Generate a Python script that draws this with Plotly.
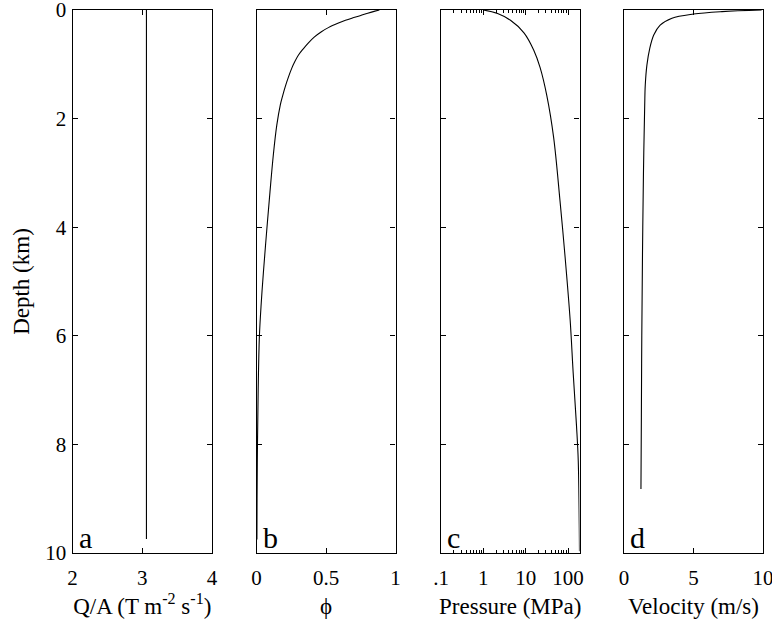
import plotly.graph_objects as go

W, H = 772, 623

# ---- data ----
depth_q = [0.0, 9.74]
qa = [3.06, 3.06]

depth_phi = [0.0, 0.03, 0.06, 0.10, 0.14, 0.19, 0.245, 0.32, 0.40, 0.50, 0.61, 0.72, 0.83,
             0.95, 1.07, 1.24, 1.41, 1.58, 1.75, 2.12, 2.67, 3.35, 4.08, 4.82, 5.4,
             6.0, 7.0, 8.0, 9.0, 9.75]
phi = [0.884, 0.84, 0.80, 0.75, 0.700, 0.64, 0.585, 0.52, 0.467, 0.415, 0.372, 0.335, 0.302,
       0.276, 0.254, 0.229, 0.207, 0.188, 0.171, 0.146, 0.121, 0.097, 0.073, 0.050, 0.034,
       0.021, 0.012, 0.007, 0.004, 0.003]

depth_p = [0.0, 0.065, 0.19, 0.42, 0.74, 1.06, 1.58, 2.35, 3.52, 4.55, 5.71, 6.68,
           7.65, 8.3, 9.97]
pressure = [1.0, 2.17, 4.37, 9.1, 15.5, 21.9, 31.6, 45.7, 64.6, 85.1, 112, 132,
            158, 174, 186]

depth_v = [0.0, 0.03, 0.074, 0.15, 0.28, 0.46, 0.71, 1.01, 1.38, 1.75, 3.0, 4.5,
           6.0, 7.5, 8.82]
velocity = [9.9, 7.05, 5.0, 3.45, 2.6, 2.14, 1.85, 1.65, 1.53, 1.49, 1.40, 1.33,
            1.28, 1.25, 1.22]

depth_ticks = [0, 2, 4, 6, 8, 10]
qa_ticks = [2, 3, 4]
phi_ticks = [0, 0.5, 1]
phi_ticktext = ["0", "0.5", "1"]
p_ticks = [0.1, 1, 10, 100]
p_ticktext = [".1", "1", "10", "100"]
p_minor = [0.2, 0.3, 0.4, 0.5, 0.6, 0.7, 0.8, 0.9, 2, 3, 4, 5, 6, 7, 8, 9,
           20, 30, 40, 50, 60, 70, 80, 90]
v_ticks = [0, 5, 10]

x_titles = ["Q/A (T m<sup>-2</sup> s<sup>-1</sup>)", "\u03d5", "Pressure (MPa)", "Velocity (m/s)"]
panel_letters = ["a", "b", "c", "d"]

# ---- layout geometry (pixels) ----
panels_px = [(72.5, 212), (256.5, 395.5), (441, 579.5), (624, 763)]
y_top, y_bot = 10, 553
ydom = [1 - y_bot / H, 1 - y_top / H]

FONT = "Liberation Serif"
TICK_SIZE = 21
TITLE_SIZE = 23
fig = go.Figure()

series = [
    (qa, depth_q, "linear"),
    (phi, depth_phi, "spline"),
    (pressure, depth_p, "spline"),
    (velocity, depth_v, "spline"),
]

for i, (xv, yv, shape) in enumerate(series):
    n = "" if i == 0 else str(i + 1)
    fig.add_trace(go.Scatter(
        x=xv, y=yv, mode="lines", xaxis="x" + n, yaxis="y" + n,
        line=dict(color="black", width=1.1, shape=shape, smoothing=1.0),
        showlegend=False, hoverinfo="skip"))

common_axis = dict(
    showline=True, linecolor="black", linewidth=1.3, mirror="ticks",
    ticks="inside", ticklen=5, tickcolor="black", tickwidth=1,
    showgrid=False, zeroline=False, automargin=False, ticklabeloverflow="allow",
    tickfont=dict(family=FONT, size=TICK_SIZE, color="black"),
)

x_specs = [
    dict(range=[2, 4], tickvals=qa_ticks),
    dict(range=[0, 1], tickvals=phi_ticks, ticktext=phi_ticktext),
    dict(type="log", range=[-1, 2.27], tickvals=p_ticks, ticktext=p_ticktext,
         minor=dict(ticks="inside", ticklen=3, tickcolor="black", tickwidth=1,
                    tickvals=p_minor, showgrid=False)),
    dict(range=[0, 10], tickvals=v_ticks),
]

layout = dict(
    width=W, height=H, margin=dict(l=0, r=0, t=0, b=0, autoexpand=False),
    paper_bgcolor="white", plot_bgcolor="white",
    font=dict(family=FONT, size=TICK_SIZE, color="black"),
    annotations=[],
)

for i, (x0, x1) in enumerate(panels_px):
    n = "" if i == 0 else str(i + 1)
    xa = dict(common_axis)
    xa.update(x_specs[i])
    xa.update(domain=[x0 / W, x1 / W], anchor="y" + n,
              ticklabelstandoff=6,
              title=dict(text=x_titles[i], font=dict(family=FONT, size=TITLE_SIZE, color="black"),
                         standoff=8))
    ya = dict(common_axis)
    ya.update(domain=ydom, anchor="x" + n, range=[10, 0], tickvals=depth_ticks,
              showticklabels=(i == 0), ticklabelstandoff=1)
    if i == 0:
        ya.update(title=dict(text="Depth (km)", font=dict(family=FONT, size=TITLE_SIZE, color="black"),
                             standoff=9))
    layout["xaxis" + n] = xa
    layout["yaxis" + n] = ya
    layout["annotations"].append(dict(
        text=panel_letters[i], xref="x" + n + " domain", yref="y" + n + " domain",
        x=0.03, y=-0.005, xanchor="left", yanchor="bottom", showarrow=False,
        font=dict(family=FONT, size=30, color="black")))

fig.update_layout(**layout)
fig.write_html("out.html", config={"displayModeBar": False},
               post_script="document.body.style.margin='0px';document.body.style.padding='0px';")
